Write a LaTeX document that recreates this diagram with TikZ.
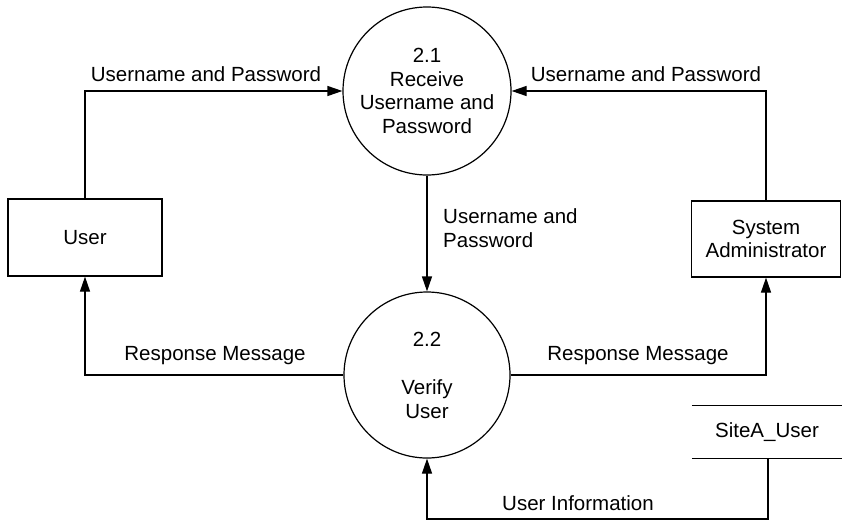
\documentclass[tikz,border=0pt]{standalone}
\usepackage{fontspec}
\setmainfont{Liberation Sans}
\usetikzlibrary{arrows.meta}
\begin{document}
\begin{tikzpicture}[x=1pt,y=-1pt,
  every node/.style={font=\fontsize{20.5}{23.5}\selectfont, inner sep=0pt},
  proc/.style={draw, circle, line width=1.2pt, align=center},
  ent/.style={draw, rectangle, line width=1.2pt, align=center},
  lbl/.style={align=left},
  flow/.style={line width=1.2pt, -{Triangle[length=15pt,width=10pt]}},
  plain/.style={line width=1.2pt}]
\useasboundingbox (0,0) rectangle (842,522);
\node[proc, minimum size=168pt] (c1) at (427,91) {2.1\\Receive\\Username and\\Password};
\node[proc, minimum size=166pt] (c2) at (427,375) {2.2\\[25pt]Verify\\User};
\node[ent, minimum width=154pt, minimum height=77pt] (user) at (85,237.5) {User};
\node[ent, minimum width=149pt, minimum height=76pt] (admin) at (766,239) {System\\Administrator};
\node[minimum width=150pt, minimum height=52pt] (store) at (767,432) {SiteA\_User};
\draw[plain] (store.north west) -- (store.north east);
\draw[plain] (store.south west) -- (store.south east);
\coordinate (sb) at (768,458);
\coordinate (corner) at (768,519);
\draw[flow] (user.north) |- (c1.west);
\draw[flow] (admin.north) |- (c1.east);
\draw[flow] (c1.south) -- (c2.north);
\draw[flow] (c2.west) -| (user.south);
\draw[flow] (c2.east) -| (admin.south);
\draw[flow] (sb) -- (corner) -| (c2.south);
\node (l1) at (206,74) {Username and Password};
\node (l2) at (646,74) {Username and Password};
\node[lbl, anchor=west] (l3) at (443,228) {Username and\\Password};
\node (l4) at (215,356) {Response Message};
\node (l5) at (638,356) {Response Message};
\node (l6) at (578,503) {User Information};
\end{tikzpicture}
\end{document}
